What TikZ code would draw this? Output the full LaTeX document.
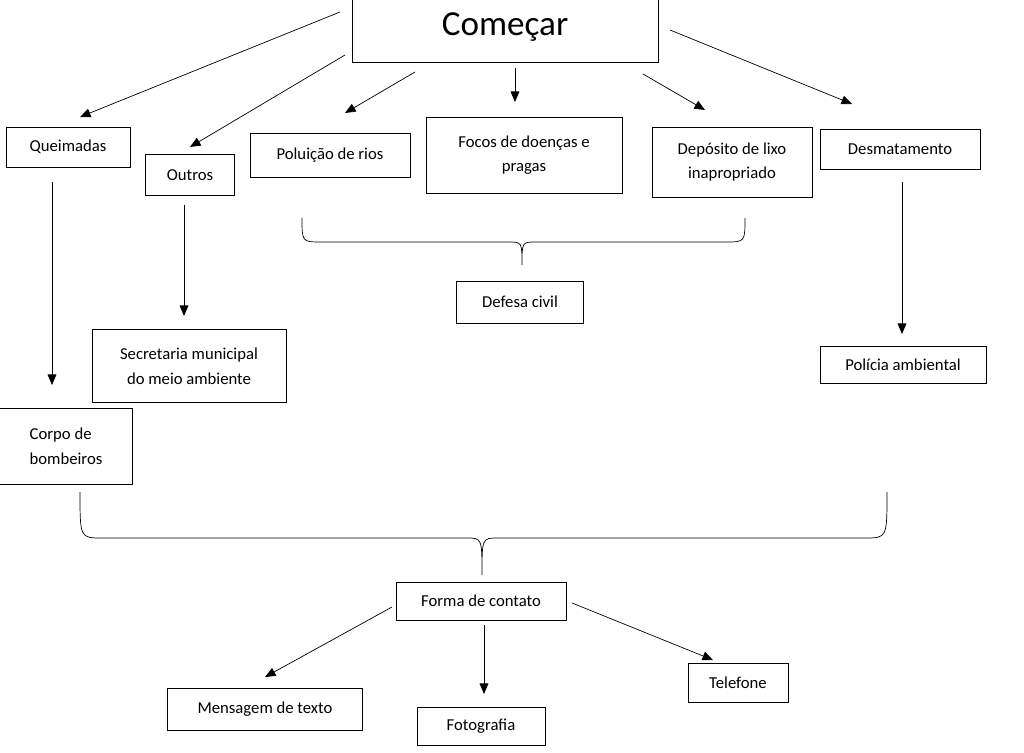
\documentclass[tikz,border=0pt]{standalone}
\usepackage{fontspec}
\setmainfont{Carlito}
\usetikzlibrary{arrows.meta}
\begin{document}
\begin{tikzpicture}
    [x=0.02cm,y=-0.02cm,
    box/.style={draw,thin,font=\fontsize{9.5}{14}\selectfont,align=center,inner sep=0pt},
    flow line/.style={thin,-{Triangle[length=6pt,width=5pt]}},
    brace line/.style={thin},
    ]
    \useasboundingbox (0,0) rectangle (1024,753);

    %top row
    \node[box,minimum width=306*0.02cm,minimum height=70*0.02cm,font=\fontsize{20}{24}\selectfont] (comecar) at (505,27) {Começar};
    \node[box,minimum width=124*0.02cm,minimum height=40*0.02cm] (queimadas) at (68,147) {Queimadas};
    \node[box,minimum width=89*0.02cm,minimum height=41*0.02cm] (outros) at (190,175) {Outros};
    \node[box,minimum width=160*0.02cm,minimum height=44*0.02cm] (rios) at (330,155) {Poluição de rios};
    \node[box,minimum width=196*0.02cm,minimum height=76*0.02cm] (focos) at (524,155) {Focos de doenças e\\pragas};
    \node[box,minimum width=160*0.02cm,minimum height=70*0.02cm] (lixo) at (732,162) {Depósito de lixo\\inapropriado};
    \node[box,minimum width=160*0.02cm,minimum height=40*0.02cm] (desmat) at (900,149) {Desmatamento};

    %agencies
    \node[box,minimum width=127*0.02cm,minimum height=42*0.02cm] (defesa) at (520,302) {Defesa civil};
    \node[box,minimum width=194*0.02cm,minimum height=73*0.02cm] (secretaria) at (189,366) {Secretaria municipal\\do meio ambiente};
    \node[box,minimum width=166*0.02cm,minimum height=37*0.02cm] (policia) at (903,365) {Polícia ambiental};
    \node[box,minimum width=133*0.02cm,minimum height=76*0.02cm,align=left] (bombeiros) at (66,446) {Corpo de\\bombeiros};

    %contact
    \node[box,minimum width=170*0.02cm,minimum height=38*0.02cm] (contato) at (481,601) {Forma de contato};
    \node[box,minimum width=195*0.02cm,minimum height=42*0.02cm] (mensagem) at (265,709) {Mensagem de texto};
    \node[box,minimum width=128*0.02cm,minimum height=38*0.02cm] (foto) at (481,726) {Fotografia};
    \node[box,minimum width=100*0.02cm,minimum height=39*0.02cm] (telefone) at (738,683) {Telefone};

    %arrows from top
    \coordinate (c1) at (340,12);
    \coordinate (c2) at (345,55);
    \coordinate (c3) at (415,72);
    \coordinate (c4) at (515,68);
    \coordinate (c5) at (643,74);
    \coordinate (c6) at (670,30);
    \draw[flow line] (c1) -- (80,117);
    \draw[flow line] (c2) -- (190,147);
    \draw[flow line] (c3) -- (345,113);
    \draw[flow line] (c4) -- (515,102);
    \draw[flow line] (c5) -- (705,110);
    \draw[flow line] (c6) -- (852,104);
    \draw[flow line] (52,182) -- (52,385);
    \draw[flow line] (184,205) -- (184,316);
    \draw[flow line] (902,182) -- (902,334);

    %braces
    \draw[brace line] (302,218) .. controls (302,242) .. (322,242) -- (508,242)
        .. controls (522,242) .. (522,265) .. controls (522,242) .. (536,242)
        -- (725,242) .. controls (745,242) .. (745,218);
    \draw[brace line] (80,492) .. controls (80,538) .. (102,538) -- (466,538)
        .. controls (482,538) .. (482,575) .. controls (482,538) .. (498,538)
        -- (865,538) .. controls (887,538) .. (887,492);

    %arrows from contato
    \draw[flow line] (392,607) -- (265,677);
    \draw[flow line] (484,625) -- (484,694);
    \draw[flow line] (572,603) -- (713,660);

    \end{tikzpicture}
\end{document}
